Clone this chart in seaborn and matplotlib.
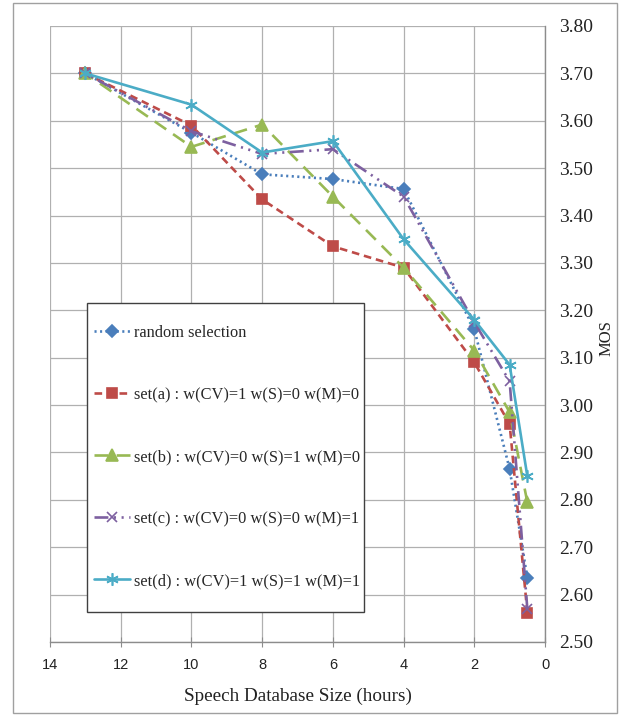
import numpy as np
import pandas as pd
import matplotlib
matplotlib.use("Agg")
import matplotlib.pyplot as plt
import matplotlib.ticker as mticker
from matplotlib.patches import Rectangle
import seaborn as sns

# data
hours = [13, 10, 8, 6, 4, 2, 1, 0.5]
random_sel = [3.70, 3.575, 3.487, 3.477, 3.456, 3.160, 2.865, 2.635]
set_a = [3.70, 3.590, 3.434, 3.335, 3.290, 3.090, 2.960, 2.562]
set_b = [3.70, 3.545, 3.592, 3.440, 3.290, 3.115, 2.985, 2.795]
set_c = [3.70, 3.578, 3.530, 3.540, 3.440, 3.175, 3.050, 2.570]
set_d = [3.70, 3.634, 3.533, 3.557, 3.350, 3.180, 3.085, 2.850]

labels = ["random selection",
          "set(a) : w(CV)=1 w(S)=0 w(M)=0",
          "set(b) : w(CV)=0 w(S)=1 w(M)=0",
          "set(c) : w(CV)=0 w(S)=0 w(M)=1",
          "set(d) : w(CV)=1 w(S)=1 w(M)=1"]

sns.set_style("white")
plt.rcParams['font.family'] = ['Liberation Serif', 'DejaVu Serif']
plt.rcParams['lines.scale_dashes'] = False

fig = plt.figure(figsize=(6.19, 7.15), dpi=100)
ax = fig.add_axes([50 / 619, 1 - 642 / 715, 495 / 619, 616 / 715])

styles = [
    (random_sel, "#4a7ebb", (0, (1.5, 2.5)), "D", 6),
    (set_a, "#be4b48", (0, (5.5, 3.5)), "s", 7.5),
    (set_b, "#98b954", (0, (10, 6)), "^", 8),
    (set_c, "#7d60a0", (0, (10, 4, 1.5, 4, 1.5, 4)), "x", 7),
    (set_d, "#4bacc6", "-", (6, 2, 0), 9),
]

for (vals, col, ls, mk, ms), lab in zip(styles, labels):
    sns.lineplot(x=hours, y=vals, ax=ax, color=col, linestyle=ls, linewidth=1.9,
                 marker=mk, markersize=ms, markeredgecolor=col,
                 markerfacecolor=col, markeredgewidth=1.2, label=lab)

ax.set_xlim(14, 0)
ax.set_ylim(2.5, 3.8)
ax.xaxis.set_major_locator(mticker.MultipleLocator(2))
ax.yaxis.set_major_locator(mticker.MultipleLocator(0.1))
ax.yaxis.set_major_formatter(mticker.FormatStrFormatter('%.2f'))
ax.yaxis.tick_right()
ax.yaxis.set_label_position("right")
ax.grid(True, color="#b0b0b0", linewidth=0.9)
ax.set_axisbelow(True)

for s in ["top", "left"]:
    ax.spines[s].set_visible(False)
for s in ["bottom", "right"]:
    ax.spines[s].set_color("#8c8c8c")
    ax.spines[s].set_linewidth(1)

ax.tick_params(axis='y', length=0, labelsize=14, labelcolor="#222222",
               pad=10, right=True)
ax.tick_params(axis='x', direction='inout', length=7, color="#8c8c8c",
               labelsize=10.5, labelcolor="#222222", pad=8, bottom=True)
for t in ax.get_xticklabels():
    t.set_family(['Liberation Sans', 'DejaVu Sans'])

ax.set_xlabel("Speech Database Size (hours)", fontsize=13.8, color="#222222", labelpad=11)
ax.set_ylabel("MOS", fontsize=12, color="#222222")
ax.yaxis.set_label_coords(1.108, 0.494)

# legend box drawn separately so the padding can match the original
ax.add_patch(Rectangle((0.0747, 0.0487), 0.5593, 0.5016, transform=ax.transAxes,
                       facecolor="white", edgecolor="#404040", linewidth=1.0,
                       zorder=4))
leg = ax.legend(loc="upper left", bbox_to_anchor=(0.0889, 0.5146), fontsize=11.8,
                frameon=False, labelspacing=2.81, borderpad=0,
                handlelength=2.2, handletextpad=0.25, borderaxespad=0)
leg.set_zorder(5)

fig.add_artist(Rectangle((13 / 619, 1 - 713 / 715), 604 / 619, 710 / 715,
                         transform=fig.transFigure, fill=False,
                         edgecolor="#a0a0a0", linewidth=1))

fig.savefig("out.png", dpi=100)
